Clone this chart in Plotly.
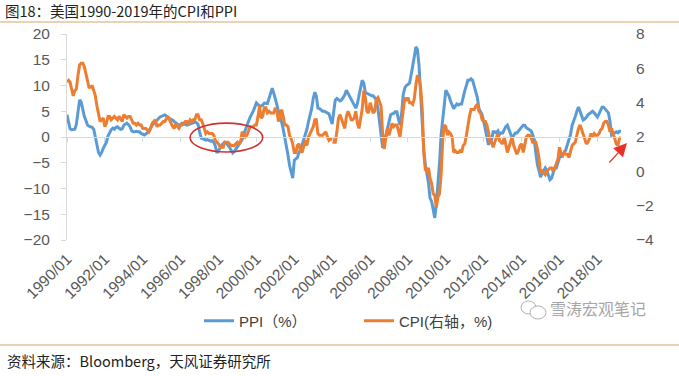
import pandas as pd
import plotly.graph_objects as go

# ---------------- data (monthly YoY, %) ----------------
start_month = "1990-01-01"
end_month = "2019-04-01"

ppi_1990s = [
    4.3, 3.0, 1.6, 1.4, 1.4, 1.5, 2.5, 5.0, 7.2, 6.8, 5.2, 4.0,
    3.2, 2.3, 2.1, 2.0, 1.9, 1.5, 0.2, -1.5, -3.0, -3.5, -3.0, -2.2,
    -1.5, -1.0, 0.2, 1.0, 1.4, 1.7, 1.5, 1.9, 2.0, 1.7, 1.5, 1.6,
    2.3, 2.5, 2.7, 2.4, 2.0, 1.2, 1.0, 1.0, 1.1, 1.0, 1.0, 0.7,
    0.5, 0.4, 0.6, 0.8, 1.2, 1.8, 2.3, 2.6, 3.0, 3.3, 3.6, 3.9,
    4.0, 4.2, 4.3, 4.1, 3.8, 3.6, 3.4, 3.3, 3.0, 2.7, 2.5, 2.3,
    2.5, 2.7, 2.6, 2.5, 2.3, 2.4, 2.5, 2.7, 2.8, 2.9, 2.8, 2.5,
    1.0, -0.2, -0.3, -0.5, -0.6, -0.5, -0.6, -0.8, -0.7, -1.0, -1.8, -3.1,
    -2.6, -2.2, -1.6, -1.2, -1.0, -1.2, -1.5, -2.0, -2.6, -3.1, -2.8, -2.3,
    -1.8, -1.5, -1.0, -0.5, 0.5, 1.5, 2.3, 3.0, 3.8, 4.3, 5.0, 5.8,
]
ppi_2000s = [
    6.6, 6.3, 6.0, 6.0, 6.2, 6.6, 6.6, 6.5, 7.5, 8.5, 9.5, 8.5,
    7.5, 6.2, 5.0, 4.0, 2.9, 1.5, 0.0, -1.5, -3.5, -5.5, -7.0, -8.0,
    -4.5, -4.2, -4.0, -3.0, -2.5, -1.5, -0.5, 0.4, 1.5, 3.0, 4.3, 5.5,
    7.5, 8.7, 8.0, 5.6, 5.5, 5.2, 5.0, 5.0, 4.8, 4.7, 4.5, 3.5,
    2.5, 5.0, 7.2, 7.5, 7.2, 7.0, 7.2, 7.6, 8.2, 9.1, 8.5, 7.8,
    7.2, 6.5, 6.0, 5.6, 6.5, 8.0, 9.5, 11.0, 10.5, 8.7, 8.5, 8.3,
    8.2, 8.0, 8.0, 7.5, 7.2, 5.5, 3.0, 0.0, -2.1, -1.0, 0.4, 2.0,
    3.0, 4.3, 4.5, 4.6, 4.9, 4.9, 3.5, 2.3, 4.5, 8.2, 9.5, 10.0,
    10.2, 10.5, 12.0, 13.5, 15.5, 17.5, 17.0, 14.0, 8.0, 1.7, -2.5, -5.4,
    -7.0, -9.0, -11.8, -12.5, -14.0, -15.7, -13.0, -9.3, -5.0, 0.4, 3.5, 6.5,
]
ppi_2010s = [
    9.1, 8.5, 8.0, 7.0, 6.2, 5.5, 6.0, 6.4, 6.2, 6.4, 6.4, 8.0,
    9.0, 10.0, 11.0, 11.0, 11.3, 11.0, 10.0, 9.1, 7.6, 5.5, 5.0, 4.3,
    3.0, 1.5, 0.5, -1.5, -1.0, -0.5, 1.0, 1.0, 0.8, 1.2, 0.5, 0.8,
    0.8, 1.5, 2.0, 2.3, 1.5, 0.8, -0.2, 0.3, 0.8, 0.8, 1.2, 1.5,
    2.0, 2.3, 2.3, 1.8, 1.6, 1.4, 1.2, 0.5, -0.5, -3.0, -5.4, -6.5,
    -7.8, -7.0, -6.5, -6.0, -6.5, -7.5, -8.3, -8.0, -7.0, -6.0, -6.0, -5.0,
    -4.0, -3.8, -3.5, -3.0, -2.5, -1.5, -0.5, 0.5, 2.3, 3.0, 4.0, 5.0,
    5.8, 5.0, 4.3, 3.3, 3.5, 3.8, 4.3, 4.6, 4.8, 5.0, 4.7, 4.3,
    3.9, 4.5, 5.2, 5.8, 5.8, 5.4, 5.2, 4.7, 3.0, 0.4, 0.6, 0.8,
    1.0, 0.8, 1.1, 1.1,
]

cpi_1990s = [
    5.2, 5.3, 5.2, 4.7, 4.4, 4.7, 4.8, 5.6, 6.2, 6.3, 6.3, 6.1,
    5.7, 5.3, 4.9, 4.9, 5.0, 4.7, 4.4, 3.8, 3.4, 2.9, 3.0, 3.1,
    2.6, 2.8, 3.2, 3.2, 3.0, 3.1, 3.2, 3.1, 3.0, 3.2, 3.0, 2.9,
    3.3, 3.2, 3.1, 3.2, 3.2, 3.0, 2.8, 2.8, 2.7, 2.8, 2.7, 2.7,
    2.5, 2.5, 2.5, 2.4, 2.3, 2.5, 2.8, 2.9, 3.0, 2.6, 2.7, 2.7,
    2.8, 2.9, 2.9, 3.1, 3.2, 3.0, 2.8, 2.6, 2.5, 2.8, 2.6, 2.5,
    2.7, 2.7, 2.8, 2.9, 2.9, 2.8, 3.0, 2.9, 3.0, 3.0, 3.3, 3.3,
    3.0, 3.0, 2.8, 2.5, 2.2, 2.3, 2.2, 2.2, 2.2, 2.1, 1.8, 1.7,
    1.6, 1.4, 1.4, 1.4, 1.7, 1.7, 1.7, 1.6, 1.5, 1.5, 1.5, 1.6,
    1.7, 1.6, 1.7, 2.3, 2.1, 2.0, 2.1, 2.3, 2.6, 2.6, 2.6, 2.7,
]
cpi_2000s = [
    2.7, 3.2, 3.8, 3.1, 3.2, 3.7, 3.7, 3.4, 3.5, 3.4, 3.4, 3.4,
    3.7, 3.5, 2.9, 3.3, 3.6, 3.2, 2.7, 2.7, 2.6, 2.1, 1.9, 1.6,
    1.1, 1.1, 1.5, 1.6, 1.2, 1.1, 1.5, 1.8, 1.5, 2.0, 2.2, 2.4,
    2.6, 3.0, 3.0, 2.2, 2.1, 2.1, 2.1, 2.2, 2.3, 2.0, 1.8, 1.9,
    1.9, 1.7, 1.7, 2.3, 3.1, 3.3, 3.0, 2.7, 2.5, 3.2, 3.5, 3.3,
    3.0, 3.0, 3.1, 3.5, 2.8, 2.5, 3.2, 3.6, 4.7, 4.3, 3.5, 3.4,
    4.0, 3.6, 3.4, 3.5, 4.2, 4.3, 4.1, 3.8, 2.1, 1.3, 2.0, 2.5,
    2.1, 2.4, 2.8, 2.6, 2.7, 2.7, 2.4, 2.0, 2.8, 3.5, 4.3, 4.1,
    4.3, 4.0, 4.0, 3.9, 4.2, 5.0, 5.6, 5.4, 4.9, 3.7, 1.1, 0.1,
    0.0, 0.2, -0.4, -0.7, -1.3, -1.4, -2.1, -1.5, -1.3, -0.2, 1.8, 2.7,
]
cpi_2010s = [
    2.6, 2.1, 2.3, 2.2, 2.0, 1.1, 1.2, 1.1, 1.1, 1.2, 1.1, 1.5,
    1.6, 2.1, 2.7, 3.2, 3.6, 3.6, 3.6, 3.8, 3.9, 3.5, 3.4, 3.0,
    2.9, 2.9, 2.7, 2.3, 1.7, 1.7, 1.4, 1.7, 2.0, 2.2, 1.8, 1.7,
    1.6, 2.0, 1.5, 1.1, 1.4, 1.8, 2.0, 1.5, 1.2, 1.0, 1.2, 1.5,
    1.6, 1.1, 1.5, 2.0, 2.1, 2.1, 2.0, 1.7, 1.7, 1.7, 1.3, 0.8,
    -0.1, 0.0, -0.1, -0.2, 0.0, 0.1, 0.2, 0.2, 0.0, 0.2, 0.5, 0.7,
    1.4, 1.0, 0.9, 1.1, 1.0, 1.0, 0.8, 1.1, 1.5, 1.6, 1.7, 2.1,
    2.5, 2.7, 2.4, 2.2, 1.9, 1.6, 1.7, 1.9, 2.2, 2.0, 2.2, 2.1,
    2.1, 2.2, 2.4, 2.5, 2.8, 2.9, 2.9, 2.7, 2.3, 2.5, 2.2, 1.9,
    1.6, 1.5, 1.9, 2.0,
]

ppi_range = [-20, 20]
cpi_range = [-4, 8]
label_step = "M24"

ppi_name = "PPI（%）"
cpi_name = "CPI(右轴，%)"
title_text = "图18：美国1990-2019年的CPI和PPI"
source_text = "资料来源：Bloomberg，天风证券研究所"
watermark_text = "雪涛宏观笔记"

# ---------------- build ----------------
months = pd.date_range(start_month, end_month, freq="MS")
ppi = ppi_1990s + ppi_2000s + ppi_2010s
cpi = cpi_1990s + cpi_2000s + cpi_2010s

W, H = 679, 376
L, R, T, B = 67, 58, 34, 136
PW, PH = W - L - R, H - T - B


def px(xp):
    return (xp - L) / PW


def py(yp):
    return (H - B - yp) / PH


BLUE = "#5b9bd5"
ORANGE = "#ed7d31"
GRID = "#d9d9d9"
TXT = "#595959"
FONT = "Liberation Sans, Arial, Noto Sans CJK SC"
CJK = "Noto Sans CJK SC, Liberation Sans"

fig = go.Figure()
fig.add_trace(go.Scatter(x=months, y=ppi, name=ppi_name, mode="lines",
                         line=dict(color=BLUE, width=3), xaxis="x", yaxis="y"))
fig.add_trace(go.Scatter(x=months, y=cpi, name=cpi_name, mode="lines",
                         line=dict(color=ORANGE, width=3), xaxis="x", yaxis="y2"))
# carrier for the zero-line category axis (draws nothing)
fig.add_trace(go.Scatter(x=[months[0]], y=[None], xaxis="x2", yaxis="y",
                         showlegend=False, hoverinfo="skip", mode="lines"))

xr = [months[0], months[-1]]
fig.update_layout(
    width=W, height=H,
    margin=dict(l=L, r=R, t=T, b=B),
    paper_bgcolor="white", plot_bgcolor="white",
    font=dict(family=FONT, size=14, color=TXT),
    showlegend=True,
    legend=dict(orientation="h", x=px(199), xanchor="left", y=py(321), yanchor="middle",
                font=dict(family=FONT, size=15, color="#404040"), itemwidth=30,
                entrywidth=115, traceorder="normal", bgcolor="rgba(0,0,0,0)"),
    title=dict(text=title_text, xref="container", yref="container",
               x=5 / W, xanchor="left", y=1 - 12 / H, yanchor="middle",
               font=dict(family=CJK, size=14.5, color="#222222")),
    xaxis=dict(type="date", range=xr, tickformat="%Y/%m", dtick=label_step,
               tick0=start_month, tickangle=-45, showgrid=False, showline=False,
               ticks="", zeroline=False, ticklabelstandoff=6,
               tickfont=dict(size=15.5, color=TXT)),
    xaxis2=dict(type="date", matches="x", overlaying="x", anchor="free", position=0.5,
                dtick=label_step, tick0=start_month, showticklabels=False,
                showgrid=False, showline=True, linecolor=GRID, linewidth=1,
                ticks="outside", ticklen=4, tickcolor=GRID),
    yaxis=dict(range=ppi_range, dtick=5, showgrid=False, zeroline=False,
               showline=True, linecolor=GRID, ticks="outside", ticklen=5,
               tickcolor=GRID, ticklabelstandoff=8, tickfont=dict(size=15.5, color=TXT)),
    yaxis2=dict(range=cpi_range, dtick=2, overlaying="y", side="right",
                showgrid=False, zeroline=False, showline=False, ticks="",
                ticklabelstandoff=14, tickfont=dict(size=15.5, color=TXT)),
)

# separator lines
for yp in (22, 345):
    fig.add_shape(type="line", xref="paper", yref="paper", x0=px(0), x1=px(W),
                  y0=py(yp), y1=py(yp), line=dict(color="#d8a66a", width=1.2))

# red ellipse highlight (1996-2000 deflation episode)
fig.add_shape(type="circle", xref="x", yref="y",
              x0="1996-07-01", x1="2000-05-01", y0=-2.9, y1=2.7,
              line=dict(color="#d0312d", width=1.6))

# red arrow at the end
fig.add_annotation(xref="paper", yref="paper", x=px(627), y=py(143), ax=-19, ay=21,
                   text="", showarrow=True, arrowhead=2, arrowsize=2.2, arrowwidth=1.2,
                   arrowcolor="#e8312a")

# source
fig.add_annotation(xref="paper", yref="paper", x=px(5), y=py(360), xanchor="left",
                   yanchor="middle", text=source_text, showarrow=False,
                   font=dict(family=CJK, size=14.5, color="#222222"))

# watermark
fig.add_annotation(xref="paper", yref="paper", x=px(548), y=py(308), xanchor="left",
                   yanchor="middle", text=watermark_text, showarrow=False,
                   font=dict(family=CJK, size=16, color="#a6a6a6"))
fig.add_shape(type="circle", xref="paper", yref="paper", x0=px(521), x1=px(536),
              y0=py(314), y1=py(301), line=dict(color="#b0b0b0", width=1))
fig.add_shape(type="circle", xref="paper", yref="paper", x0=px(530), x1=px(546),
              y0=py(319), y1=py(306), line=dict(color="#b0b0b0", width=1),
              fillcolor="white")

fig.write_html("out.html", config={"displayModeBar": False},
               post_script="document.body.style.margin='0';document.body.style.padding='0';")
